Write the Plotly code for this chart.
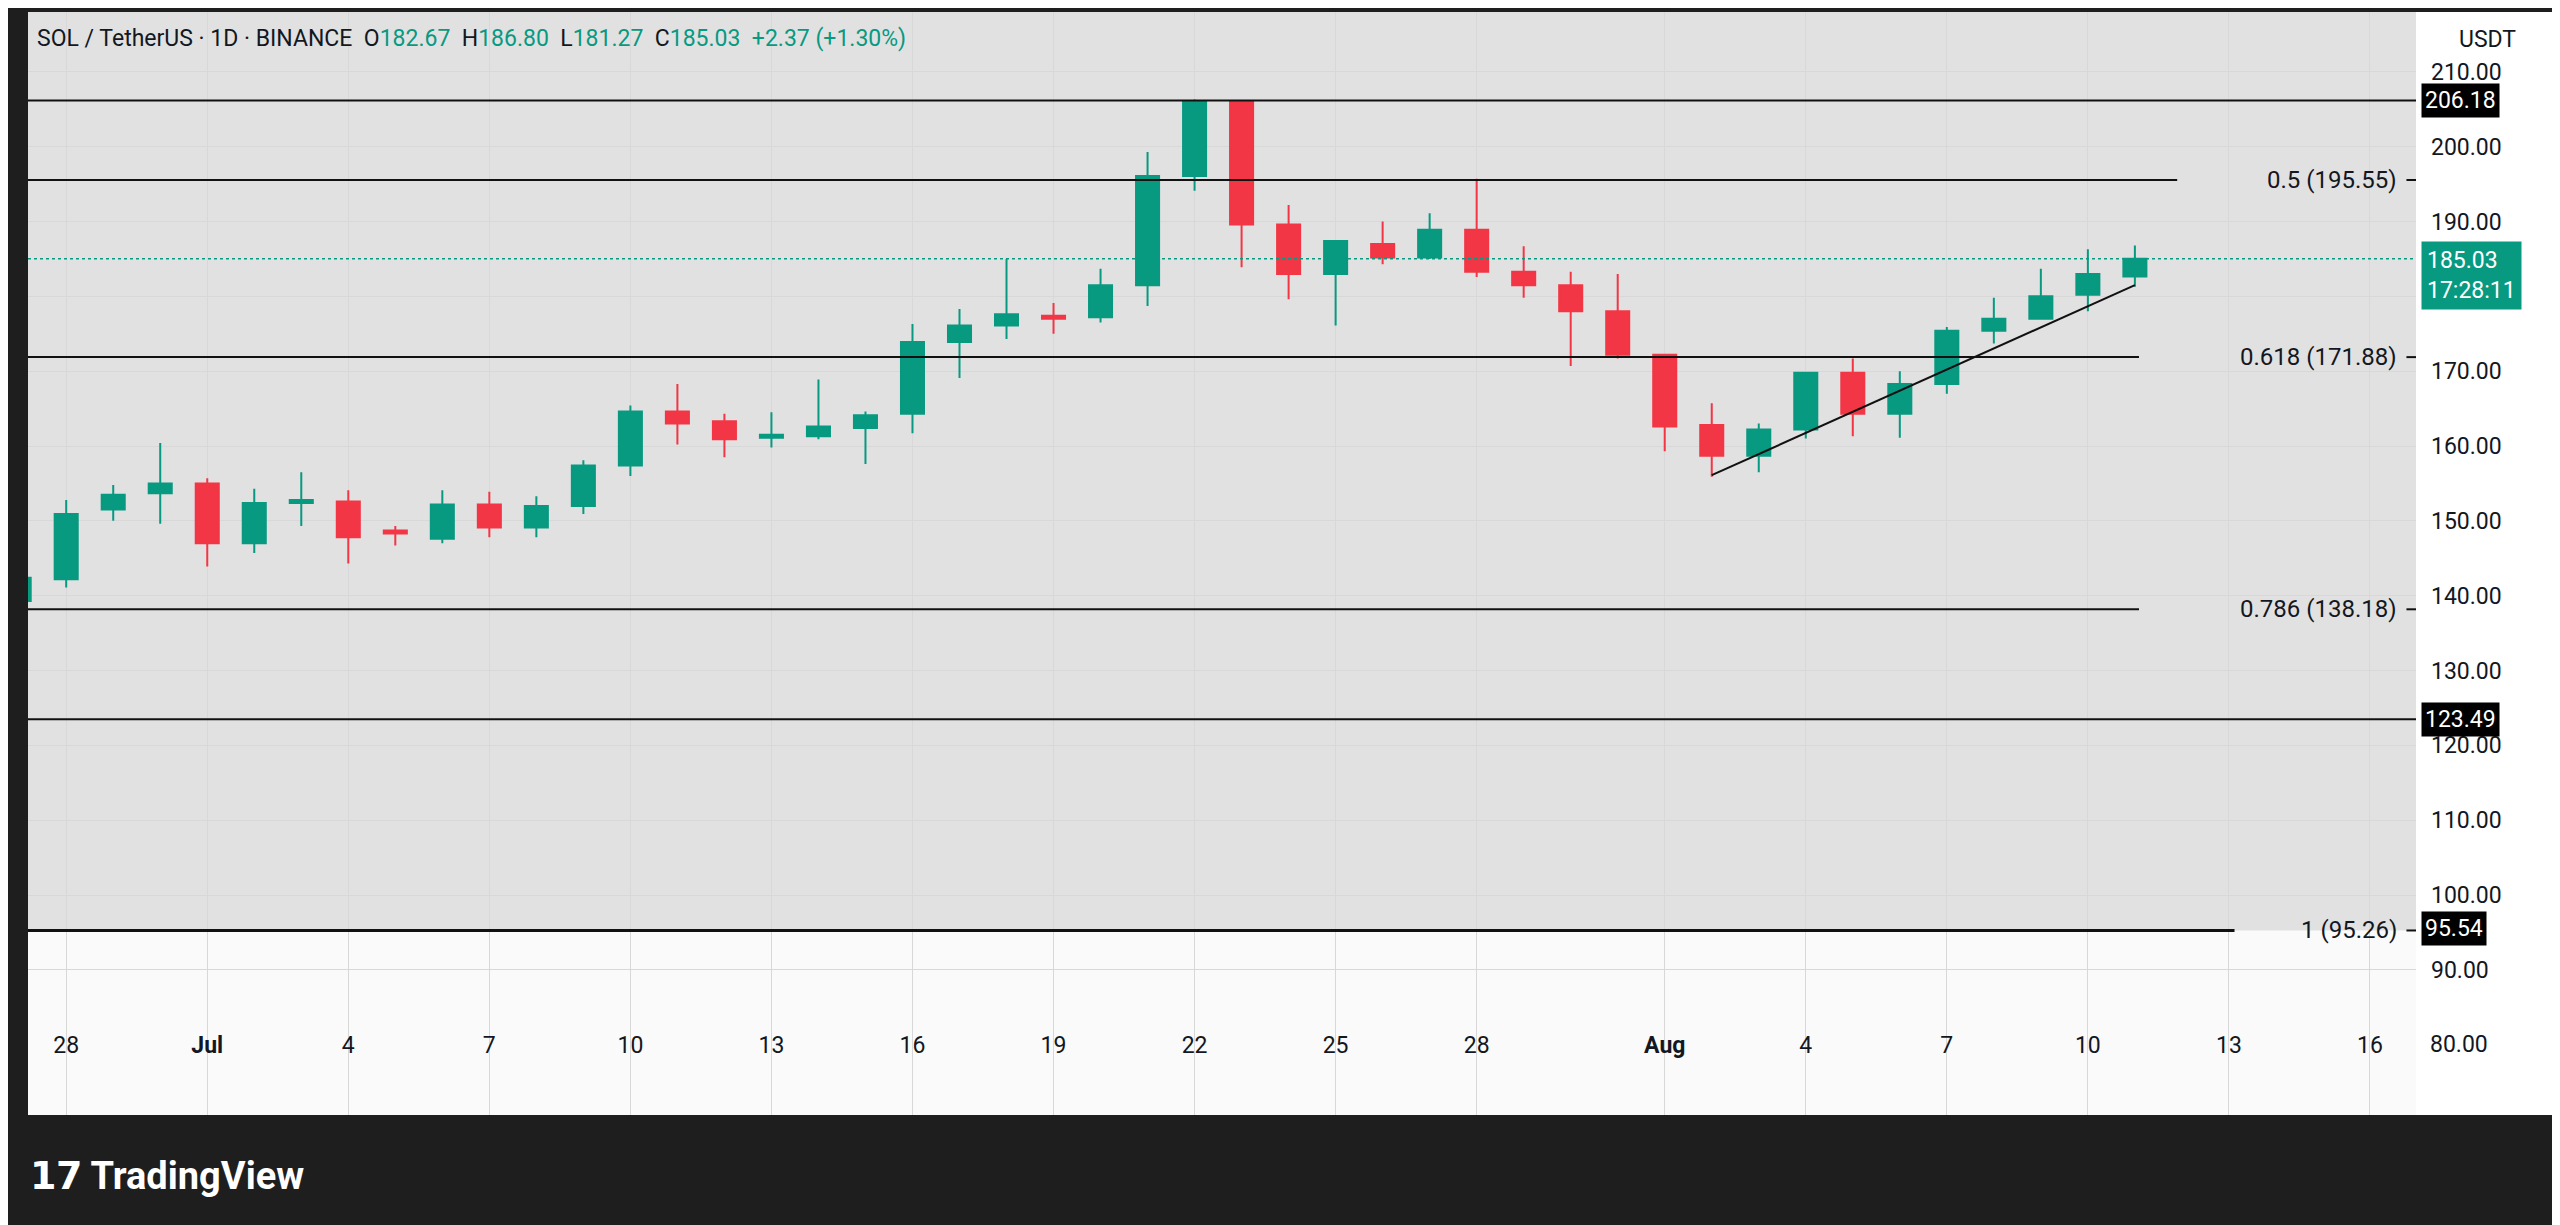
import plotly.graph_objects as go
import pandas as pd

dates = pd.date_range("2025-06-27", "2025-08-11", freq="D")
opens = [139.3,142.2,151.5,153.7,155.0,147.0,152.4,152.6,148.7,147.6,152.2,149.1,152.0,157.4,164.6,163.3,161.1,161.3,162.4,164.3,173.9,176.1,177.4,177.2,181.5,196.1,206.1,189.6,183.0,187.0,185.2,188.9,183.3,181.5,178.0,172.2,162.8,158.7,162.2,169.8,164.3,168.3,175.4,177.0,180.2,182.67]
closes = [142.4,150.9,153.5,155.0,147.0,152.4,152.8,147.8,148.3,152.2,149.1,152.0,157.4,164.6,163.0,160.9,161.5,162.6,164.1,173.9,176.1,177.6,177.0,181.5,196.1,206.1,189.6,183.0,187.4,185.2,188.9,183.3,181.5,178.0,172.2,162.6,158.7,162.2,169.8,164.3,168.3,175.4,177.0,180.0,183.0,185.03]
highs = [143.0,152.8,154.8,160.4,155.7,154.3,156.5,154.1,149.3,154.1,153.9,153.3,158.1,165.4,168.3,164.3,164.5,168.9,164.6,176.3,178.3,185.0,179.1,183.7,199.3,206.3,206.2,192.2,187.4,190.0,191.1,195.7,186.7,183.3,183.0,172.2,165.7,163.0,169.8,171.7,170.0,175.9,179.8,183.7,186.3,186.8]
lows = [138.5,141.1,150.0,149.6,143.9,145.7,149.3,144.3,146.7,147.0,147.8,147.8,150.9,156.0,160.2,158.5,159.8,160.9,157.6,161.7,169.1,174.3,175.0,176.5,178.7,194.1,183.9,179.6,176.1,184.3,185.0,182.6,179.8,170.7,171.7,159.3,155.9,156.5,161.0,161.3,161.1,167.0,173.7,177.0,178.0,181.27]

fib_levels = [206.18, 195.55, 171.88, 138.18, 123.49, 95.26]
fib_labels = ["", "0.5 (195.55)", "0.618 (171.88)", "0.786 (138.18)", "", "1 (95.26)"]
price_tags = [206.18, 123.49, 95.54]
last_price = 185.03
trend_x = ["2025-08-02", "2025-08-11"]
trend_y = [156.1, 181.5]
ytick_vals = list(range(80, 211, 10))
xtick_dates = ["2025-06-28","2025-07-01","2025-07-04","2025-07-07","2025-07-10","2025-07-13","2025-07-16","2025-07-19","2025-07-22","2025-07-25","2025-07-28","2025-08-01","2025-08-04","2025-08-07","2025-08-10","2025-08-13","2025-08-16"]
xtick_text = ["28","<b>Jul</b>","4","7","10","13","16","19","22","25","28","<b>Aug</b>","4","7","10","13","16"]

GREEN = "#089981"; RED = "#f23645"
FONT = "Roboto"

fig = go.Figure()
fig.add_trace(go.Candlestick(x=dates, open=opens, high=highs, low=lows, close=closes,
    increasing=dict(line=dict(color=GREEN, width=2), fillcolor=GREEN),
    decreasing=dict(line=dict(color=RED, width=2), fillcolor=RED),
    whiskerwidth=0, showlegend=False, hoverinfo="skip"))
fig.add_trace(go.Scatter(x=trend_x, y=trend_y, mode="lines", line=dict(color="#111", width=2),
                         showlegend=False, hoverinfo="skip"))

shapes = []
shapes.append(dict(type="rect", xref="paper", yref="y", x0=0, x1=1, y0=95.26, y1=230,
                   fillcolor="#e1e1e1", line_width=0, layer="below"))
for lv, lb in zip(fib_levels, fib_labels):
    x1 = 1 if lb == "" else (0.996 - len(lb) * 0.0080)
    w = 3 if lv == 95.26 else 2
    shapes.append(dict(type="line", xref="paper", yref="y", x0=0, x1=x1, y0=lv, y1=lv,
                       line=dict(color="#111", width=w)))
    if lb:
        shapes.append(dict(type="line", xref="paper", yref="y", x0=0.996, x1=1.0, y0=lv, y1=lv,
                           line=dict(color="#111", width=2)))
shapes.append(dict(type="line", xref="paper", yref="y", x0=0, x1=1, y0=last_price, y1=last_price,
                   line=dict(color=GREEN, width=1.5, dash="dot")))
shapes.append(dict(type="rect", xref="paper", yref="paper", x0=1, x1=1.057, y0=0, y1=1,
                   fillcolor="white", line_width=0, layer="below"))

ann = []
ann.append(dict(xref="paper", yref="paper", x=0.003, y=0.99, xanchor="left", yanchor="top", showarrow=False,
    text=("<span style='color:#131722'>SOL / TetherUS · 1D · BINANCE  O</span><span style='color:%s'>182.67</span>"
          "<span style='color:#131722'>  H</span><span style='color:%s'>186.80</span>"
          "<span style='color:#131722'>  L</span><span style='color:%s'>181.27</span>"
          "<span style='color:#131722'>  C</span><span style='color:%s'>185.03  +2.37 (+1.30%%)</span>") % (GREEN,GREEN,GREEN,GREEN),
    font=dict(size=23, family=FONT)))
for lv, lb in zip(fib_levels, fib_labels):
    if lb:
        ann.append(dict(xref="paper", yref="y", x=0.993, y=lv, xanchor="right", yanchor="middle",
                        showarrow=False, text=lb, font=dict(size=24, color="#131722", family=FONT)))
for p in price_tags:
    ann.append(dict(xref="paper", yref="y", x=1.002, y=p, xanchor="left", yanchor="middle", showarrow=False,
                    text="%.2f" % p, bgcolor="#000", font=dict(size=23, color="white", family=FONT),
                    borderpad=3))
ann.append(dict(xref="paper", yref="y", x=1.002, y=last_price, xanchor="left", yanchor="top", showarrow=False,
                text="%.2f<br>17:28:11" % last_price, bgcolor=GREEN, font=dict(size=23, color="white", family=FONT),
                borderpad=5, yshift=18, align="left"))
ann.append(dict(xref="paper", yref="paper", x=1.03, y=0.975, xanchor="center", yanchor="middle", showarrow=False,
                text="USDT", font=dict(size=23, color="#131722", family=FONT), bgcolor="white"))
# lowest y tick label (plotly hides it behind the inside x labels)
ann.append(dict(xref="paper", yref="y", x=1.0, y=ytick_vals[0], xanchor="left", yanchor="middle", showarrow=False,
                xshift=12, text="%.2f" % ytick_vals[0], font=dict(size=23, color="#131722", family=FONT)))
ann.append(dict(xref="paper", yref="paper", x=0.0, y=-0.055, xanchor="left", yanchor="middle", showarrow=False,
                text="<b>𝟭𝟳 TradingView</b>", font=dict(size=38, color="white", family=FONT)))

fig.update_layout(
    width=2560, height=1225, paper_bgcolor="#1e1e1e", plot_bgcolor="#fafafa",
    margin=dict(l=20, r=152, t=4, b=118),
    shapes=shapes, annotations=ann,
    xaxis=dict(range=["2025-06-27 04:30", "2025-08-16 23:30"], rangeslider=dict(visible=False),
               tickvals=xtick_dates, ticktext=xtick_text, ticklabelposition="inside",
               ticklabelstandoff=54,
               showgrid=True, gridcolor="#d8d8d8", gridwidth=1, zeroline=False, showline=False,
               tickfont=dict(size=23, color="#131722", family=FONT), ticks=""),
    yaxis=dict(side="right", range=[70.6, 218.0], tickvals=ytick_vals,
               ticktext=["%.2f" % v for v in ytick_vals], showgrid=True, gridcolor="#d8d8d8",
               zeroline=False, tickfont=dict(size=23, color="#131722", family=FONT), ticklabelstandoff=14),
)
fig.write_html("out.html")
